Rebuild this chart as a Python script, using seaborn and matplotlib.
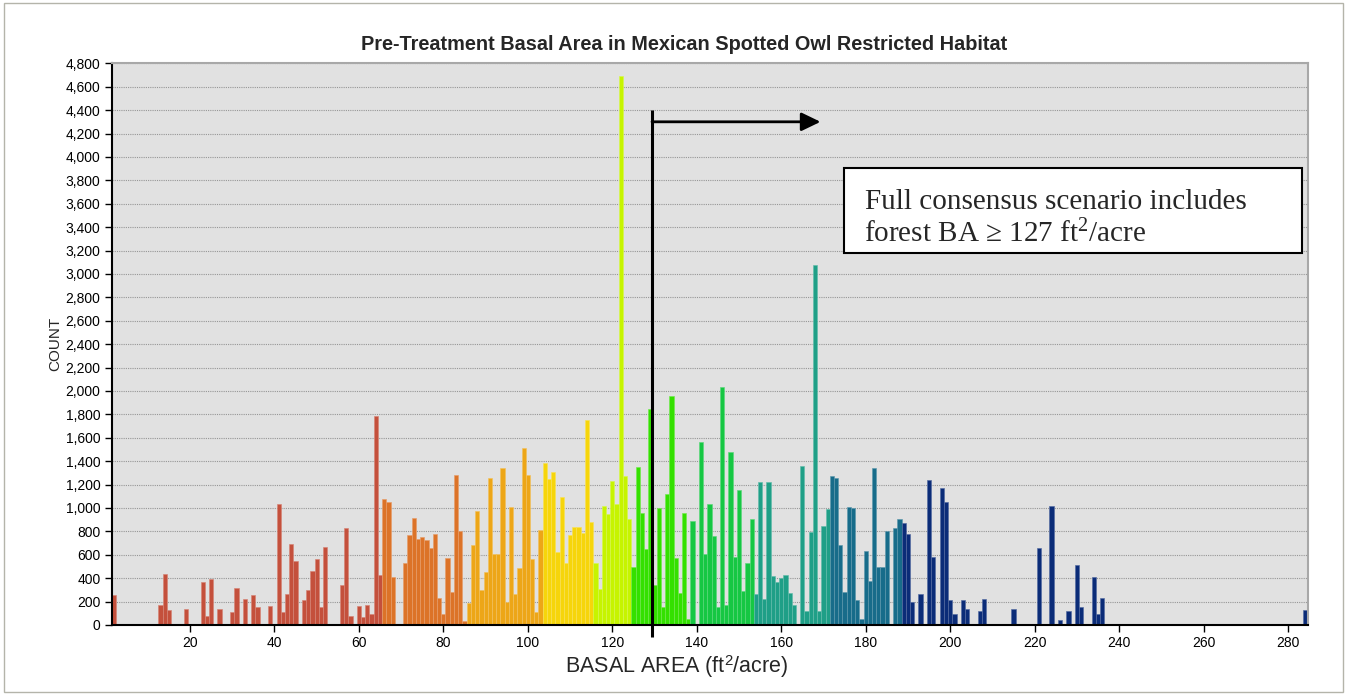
import numpy as np
import pandas as pd
import matplotlib
matplotlib.use("Agg")
import matplotlib.pyplot as plt
import matplotlib.colors as mcolors
from matplotlib.ticker import FuncFormatter
from matplotlib.patches import Rectangle
import seaborn as sns

# ---------------- data ----------------
basal_area = [2, 13, 14, 15, 19, 23, 24, 25, 27, 30, 31, 33, 35, 36, 39, 41, 42, 43, 44, 45,
              47, 48, 49, 50, 51, 52, 56, 57, 58, 60, 61, 62, 63, 64, 65, 66, 67, 68, 71, 72,
              73, 74, 75, 76, 77, 78, 79, 80, 81, 82, 83, 84, 85, 86, 87, 88, 89, 90, 91, 92,
              93, 94, 95, 96, 97, 98, 99, 100, 101, 102, 103, 104, 105, 106, 107, 108, 109, 110,
              111, 112, 113, 114, 115, 116, 117, 118, 119, 120, 121, 122, 123, 124, 125, 126,
              127, 128, 129, 130, 131, 132, 133, 134, 135, 136, 137, 138, 139, 141, 142, 143,
              144, 145, 146, 147, 148, 149, 150, 151, 152, 153, 154, 155, 156, 157, 158, 159,
              160, 161, 162, 163, 165, 166, 167, 168, 169, 170, 171, 172, 173, 174, 175, 176,
              177, 178, 179, 180, 181, 182, 183, 184, 185, 187, 188, 189, 190, 191, 193, 195,
              196, 198, 199, 200, 201, 203, 204, 207, 208, 215, 221, 224, 226, 228, 230, 231,
              234, 235, 236, 284]
counts = [260, 175, 440, 125, 135, 365, 80, 395, 135, 110, 320, 220, 260, 155, 165, 1030, 110, 265, 690, 550,
          210, 300, 460, 560, 155, 670, 340, 825, 80, 165, 65, 175, 90, 1790, 430, 1075, 1055, 410, 530, 770,
          915, 735, 750, 725, 660, 780, 230, 90, 570, 285, 1285, 800, 35, 190, 685, 975, 300, 450, 1260, 605,
          605, 1340, 200, 1010, 265, 485, 1515, 1285, 560, 110, 815, 1385, 1250, 1310, 625, 1090, 530, 770,
          835, 835, 790, 1750, 880, 530, 310, 1020, 945, 1230, 1035, 4690, 1275, 905, 495, 1350,
          955, 650, 1845, 340, 1000, 155, 1120, 1960, 575, 275, 955, 55, 890, 1565, 605, 1035,
          760, 155, 2030, 175, 1475, 585, 1155, 290, 530, 905, 265, 1220, 225, 1220, 415, 370,
          405, 430, 275, 175, 1360, 120, 795, 3080, 120, 845, 990, 1270, 1260, 680, 285, 1010,
          1000, 210, 55, 635, 375, 1340, 495, 495, 800, 825, 910, 870, 780, 200, 262, 1240,
          580, 1175, 1050, 211, 90, 211, 140, 123, 220, 134, 660, 1015, 46, 123, 517, 155,
          410, 90, 235, 125]

# colour classes (upper bound of each class, inclusive)
class_upper = [65, 85, 103, 115, 124, 138, 153, 171, 188, 300]
class_names = ["c1", "c2", "c3", "c4", "c5", "c6", "c7", "c8", "c9", "c10"]
class_colors = ["#C4503C", "#DC7328", "#EDA617", "#F6D50B", "#C6F400",
                "#34E000", "#16C743", "#1F9F87", "#176C8A", "#0B2C78"]

x_ticks = [20, 40, 60, 80, 100, 120, 140, 160, 180, 200, 220, 240, 260, 280]
y_ticks = list(range(0, 4801, 200))

title = "Pre-Treatment Basal Area in Mexican Spotted Owl Restricted Habitat"
x_label = r"BASAL AREA (ft$^{\mathsf{2}}$/acre)"
y_label = "COUNT"
threshold_x = 129.4
arrow_end_x = 169.3
arrow_y = 4300
line_top = 4400
note_lines = ["Full consensus scenario includes", "forest BA \u2265 127 ft$^{2}$/acre"]

# ---------------- figure ----------------
df = pd.DataFrame({"ba": basal_area, "count": counts})
df["cls"] = [class_names[int(np.searchsorted(class_upper, v))] for v in basal_area]
palette = dict(zip(class_names, class_colors))

sns.set_theme(style="ticks")
plt.rcParams["font.family"] = ["Liberation Sans", "DejaVu Sans"]
plt.rcParams["mathtext.fontset"] = "custom"
plt.rcParams["mathtext.rm"] = "Liberation Serif"
plt.rcParams["mathtext.sf"] = "Liberation Sans"
plt.rcParams["mathtext.default"] = "rm"

W, H = 1348, 698
fig = plt.figure(figsize=(W / 100, H / 100), dpi=100)
fig.patch.set_facecolor("white")
ax_l, ax_r, ax_t, ax_b = 111.7, 1307.7, 63.3, 625.0
ax = fig.add_axes([ax_l / W, 1 - ax_b / H, (ax_r - ax_l) / W, (ax_b - ax_t) / H])

sns.barplot(data=df, x="ba", y="count", hue="cls", hue_order=class_names,
            palette=palette, native_scale=True, dodge=False, width=1.0,
            errorbar=None, legend=False, ax=ax, saturation=1)

for p in ax.patches:
    c = p.get_x() + p.get_width() / 2
    p.set_width(1.0)
    p.set_x(c - 0.5)
    fc = np.array(mcolors.to_rgb(p.get_facecolor()))
    ec = fc + (1 - fc) * 0.3
    p.set_edgecolor(ec)
    p.set_linewidth(0.45)

ax.set_facecolor("#E1E1E1")
ax.set_axisbelow(True)
ax.set_xlim(1.46, 284.66)
ax.set_ylim(0, 4800)
ax.set_xticks(x_ticks)
ax.set_yticks(y_ticks)
ax.yaxis.set_major_formatter(FuncFormatter(lambda v, p: f"{int(v):,}"))
ax.grid(axis="y", linestyle=(0, (1, 1)), color="#969696", linewidth=0.8)
ax.grid(axis="x", visible=False)
ax.tick_params(axis="both", direction="out", length=5, width=1, colors="black",
               labelsize=10, pad=3)

for s in ["left", "bottom"]:
    ax.spines[s].set_color("black")
    ax.spines[s].set_linewidth(1.5)
for s in ["top", "right"]:
    ax.spines[s].set_visible(True)
    ax.spines[s].set_color("#A8A8A8")
    ax.spines[s].set_linewidth(1.5)

ax.set_xlabel(x_label, fontsize=15.5)
ax.xaxis.set_label_coords((677 - ax_l) / (ax_r - ax_l), (ax_b - 654) / (ax_b - ax_t))
ax.set_ylabel(y_label, fontsize=11)
ax.yaxis.set_label_coords((62 - ax_l) / (ax_r - ax_l), 0.5)

# threshold line + arrow
ax.plot([threshold_x, threshold_x], [-100, line_top], color="black", lw=2.2,
        clip_on=False, zorder=5, solid_capstyle="butt")
ax.annotate("", xy=(arrow_end_x, arrow_y), xytext=(threshold_x, arrow_y),
            arrowprops=dict(arrowstyle="-|>,head_length=0.58,head_width=0.28",
                            color="black", lw=2, shrinkA=0, shrinkB=0,
                            mutation_scale=20), zorder=6)

# note box
fig.patches.append(Rectangle((844 / W, 1 - 253 / H), 458 / W, 85 / H,
                             transform=fig.transFigure, facecolor="white",
                             edgecolor="black", linewidth=1.5, zorder=3))
fig.text(865 / W, 1 - 209 / H, note_lines[0], fontsize=21,
         family=["Liberation Serif", "DejaVu Serif"], va="baseline", zorder=4)
fig.text(864 / W, 1 - 242 / H, note_lines[1], fontsize=21,
         family=["Liberation Serif", "DejaVu Serif"], va="baseline", zorder=4)

# title
fig.text(684 / W, 1 - 44 / H, title, ha="center", va="center",
         fontweight="bold", fontsize=14.3)

# outer border
fig.patches.append(Rectangle((4 / W, 6 / H), 1339 / W, 689 / H,
                             transform=fig.transFigure, fill=False,
                             edgecolor="#B4B4AA", linewidth=1))

fig.savefig("out.png", dpi=100)
